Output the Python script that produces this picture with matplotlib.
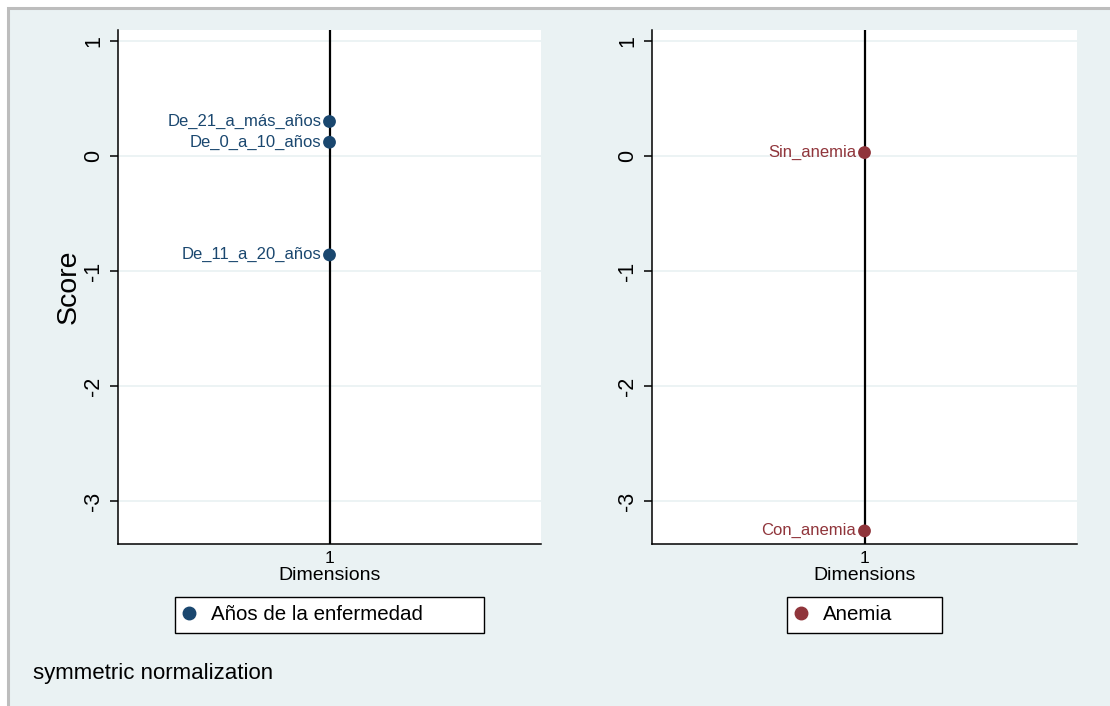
import matplotlib
matplotlib.use("Agg")
import matplotlib.pyplot as plt
from matplotlib.patches import Rectangle
from matplotlib.lines import Line2D

plt.rcParams['font.family'] = ['Liberation Sans', 'DejaVu Sans']

# Category scores on dimension 1
anos_labels = ["De_21_a_más_años", "De_0_a_10_años", "De_11_a_20_años"]
anos_scores = [0.30, 0.12, -0.86]
anemia_labels = ["Sin_anemia", "Con_anemia"]
anemia_scores = [0.03, -3.26]
dimension = 1

yticks = [1, 0, -1, -2, -3]
ytick_labels = ["1", "0", "-1", "-2", "-3"]

navy = "#1A476F"
maroon = "#90353B"
bg = "#EAF2F3"

W, H = 1110, 706
fig = plt.figure(figsize=(W / 100, H / 100), dpi=100)
fig.patch.set_facecolor("white")

# graph region with thin gray frame
fig.patches.append(Rectangle((8 / W, -0.01), (W + 10) / W, (H - 8) / H + 0.01,
                             transform=fig.transFigure, facecolor=bg,
                             edgecolor="#BDBDBD", linewidth=2.2, zorder=-5))


def panel(left_px, right_px, labels, scores, color, legend_title,
          legend_box, ylabel=None):
    ax = fig.add_axes([left_px / W, 1 - 544 / H,
                       (right_px - left_px) / W, (544 - 30) / H])
    ax.set_zorder(1)
    ax.set_facecolor("white")
    ax.set_xlim(0.5, 1.5)
    ax.set_ylim(-3.374, 1.096)
    ax.axvline(dimension, color="black", linewidth=1.6, zorder=2)
    for t in yticks:
        ax.axhline(t, color=bg, linewidth=1.3, zorder=1)
    ax.scatter([dimension] * len(scores), scores, s=85, color=color,
               zorder=3, edgecolors="none", clip_on=False)
    for lab, sc in zip(labels, scores):
        ax.annotate(lab, (dimension, sc), xytext=(-6, 0),
                    textcoords="offset points", ha="right", va="center",
                    color=color, fontsize=12)
    ax.set_yticks(yticks)
    ax.set_yticklabels(ytick_labels, rotation=90, va="center")
    ax.set_xticks([dimension])
    ax.set_xticklabels(["1"])
    ax.tick_params(axis="y", labelsize=15.5, length=6, width=1.1, pad=4)
    ax.tick_params(axis="x", labelsize=12.5, length=0, pad=5)
    for side in ("top", "right"):
        ax.spines[side].set_visible(False)
    for side in ("left", "bottom"):
        ax.spines[side].set_linewidth(1.1)
    ax.set_xlabel("Dimensions", fontsize=14, labelpad=1)
    if ylabel:
        ax.set_ylabel(ylabel, fontsize=20.5, labelpad=1)
    x0, x1 = legend_box
    handle = Line2D([], [], marker="o", linestyle="none", color=color,
                    markersize=9)
    leg = fig.legend([handle], [legend_title], loc="center",
                     bbox_to_anchor=(x0 / W, 1 - 633 / H, (x1 - x0) / W,
                                     36 / H),
                     mode="expand", fontsize=14.8,
                     frameon=True, fancybox=False, borderpad=0.4,
                     borderaxespad=0, handletextpad=0.75, handlelength=0.6)
    frame = leg.get_frame()
    frame.set_edgecolor("black")
    frame.set_linewidth(1.0)
    frame.set_facecolor("white")
    frame.set_alpha(1)
    return ax


panel(118, 541, anos_labels, anos_scores, navy,
      "Años de la enfermedad", (175, 484), ylabel="Score")
panel(652, 1077, anemia_labels, anemia_scores, maroon,
      "Anemia", (787, 942))

fig.text(33 / W, 1 - 674 / H, "symmetric normalization", fontsize=16,
         ha="left", va="center")

fig.savefig("out.png", dpi=100)
